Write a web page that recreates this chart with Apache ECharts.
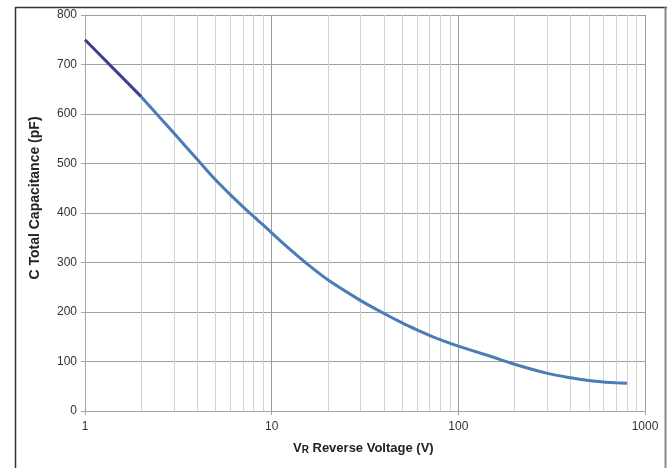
<!DOCTYPE html>
<html>
<head>
<meta charset="utf-8">
<script src="https://cdn.jsdelivr.net/npm/echarts@6/dist/echarts.min.js"></script>
<style>
html,body{margin:0;padding:0;background:#fff;}
#chart{width:667px;height:468px;}
</style>
</head>
<body>
<div id="chart"></div>
<script>
// Reverse voltage (V) and total capacitance (pF)
var voltageLow = [1, 2];
var capLow = [750, 635];
var voltage = [2, 3, 4, 5, 6, 7, 8, 9, 10, 12.5, 15.4, 20, 30, 40, 50, 60, 70, 80, 90, 100, 150, 200, 300, 400, 500, 600, 700, 800];
var capacitance = [635, 561, 508, 467, 437, 413, 393, 376, 360, 327, 298, 265, 223, 197, 178, 164, 153, 144, 137, 131, 110, 94.5, 76, 67, 61.5, 58.5, 57, 56];
var minorGrid = [2,3,4,5,6,7,8,9,20,30,40,50,60,70,80,90,200,300,400,500,600,700,800,900];
var yTicks = [0, 100, 200, 300, 400, 500, 600, 700, 800];

function pairs(xs, ys){ return xs.map(function(x,i){ return [x, ys[i]]; }); }

var chart = echarts.init(document.getElementById('chart'), null, {renderer:'canvas'});
chart.setOption({
  animation: false,
  backgroundColor: '#fff',
  grid: {left: 85, right: 22, top: 15, bottom: 57, containLabel: false},
  xAxis: {
    type: 'log', logBase: 10, min: 1, max: 1000,
    axisLine: {show: true, lineStyle: {color: '#a6a6a6', width: 1}},
    axisTick: {show: true, length: 4, lineStyle: {color: '#a6a6a6'}},
    axisLabel: {color: '#333', fontSize: 12, fontFamily: 'Liberation Sans', margin: 10,
      formatter: function(v){ return String(Math.round(v)); }},
    splitLine: {show: true, lineStyle: {color: '#9a9a9a', width: 1}}
  },
  yAxis: {
    type: 'value', min: yTicks[0], max: yTicks[yTicks.length-1], interval: 100,
    axisLine: {show: true, lineStyle: {color: '#a6a6a6', width: 1}},
    axisTick: {show: true, length: 4, lineStyle: {color: '#a6a6a6'}},
    axisLabel: {color: '#333', fontSize: 12, fontFamily: 'Liberation Sans', margin: 8},
    splitLine: {show: true, lineStyle: {color: '#a0a0a0', width: 1}}
  },
  series: [
    {
      type: 'line', data: [], silent: true, z: 1,
      markLine: {
        silent: true, symbol: 'none', animation: false, z: 1,
        label: {show: false},
        lineStyle: {color: '#d2d2d2', width: 1, type: 'solid'},
        data: minorGrid.map(function(v){ return {xAxis: v}; })
      }
    },
    {
      type: 'line', data: pairs(voltage, capacitance), smooth: 0.3,
      showSymbol: false, z: 5,
      lineStyle: {color: '#4a7cb5', width: 3}
    },
    {
      type: 'line', data: pairs(voltageLow, capLow), smooth: false,
      showSymbol: false, z: 6,
      lineStyle: {color: '#3c3f91', width: 3}
    }
  ],
  graphic: [
    {type: 'line', shape: {x1: 15.5, y1: 7, x2: 15.5, y2: 468}, style: {stroke: '#333', lineWidth: 1.5}},
    {type: 'line', shape: {x1: 15, y1: 7.5, x2: 667, y2: 7.5}, style: {stroke: '#333', lineWidth: 1.5}},
    {type: 'line', shape: {x1: 665.5, y1: 7, x2: 665.5, y2: 468}, style: {stroke: '#888', lineWidth: 2}},
    {
      type: 'text', left: 293, top: 442,
      style: {
        text: '{v|V}{r|R}{t| Reverse Voltage (V)}',
        rich: {
          v: {fontSize: 13, fontWeight: 'bold', fontFamily: 'Liberation Sans', fill: '#222', verticalAlign: 'bottom'},
          r: {fontSize: 10, fontWeight: 'bold', fontFamily: 'Liberation Sans', fill: '#222', verticalAlign: 'bottom'},
          t: {fontSize: 13, fontWeight: 'bold', fontFamily: 'Liberation Sans', fill: '#222', verticalAlign: 'bottom'}
        }
      }
    },
    {
      type: 'text', x: 35, y: 198, rotation: Math.PI/2,
      style: {
        text: 'C Total Capacitance (pF)',
        font: 'bold 14px "Liberation Sans"', fill: '#222',
        align: 'center', verticalAlign: 'middle'
      }
    }
  ]
});
</script>
</body>
</html>
